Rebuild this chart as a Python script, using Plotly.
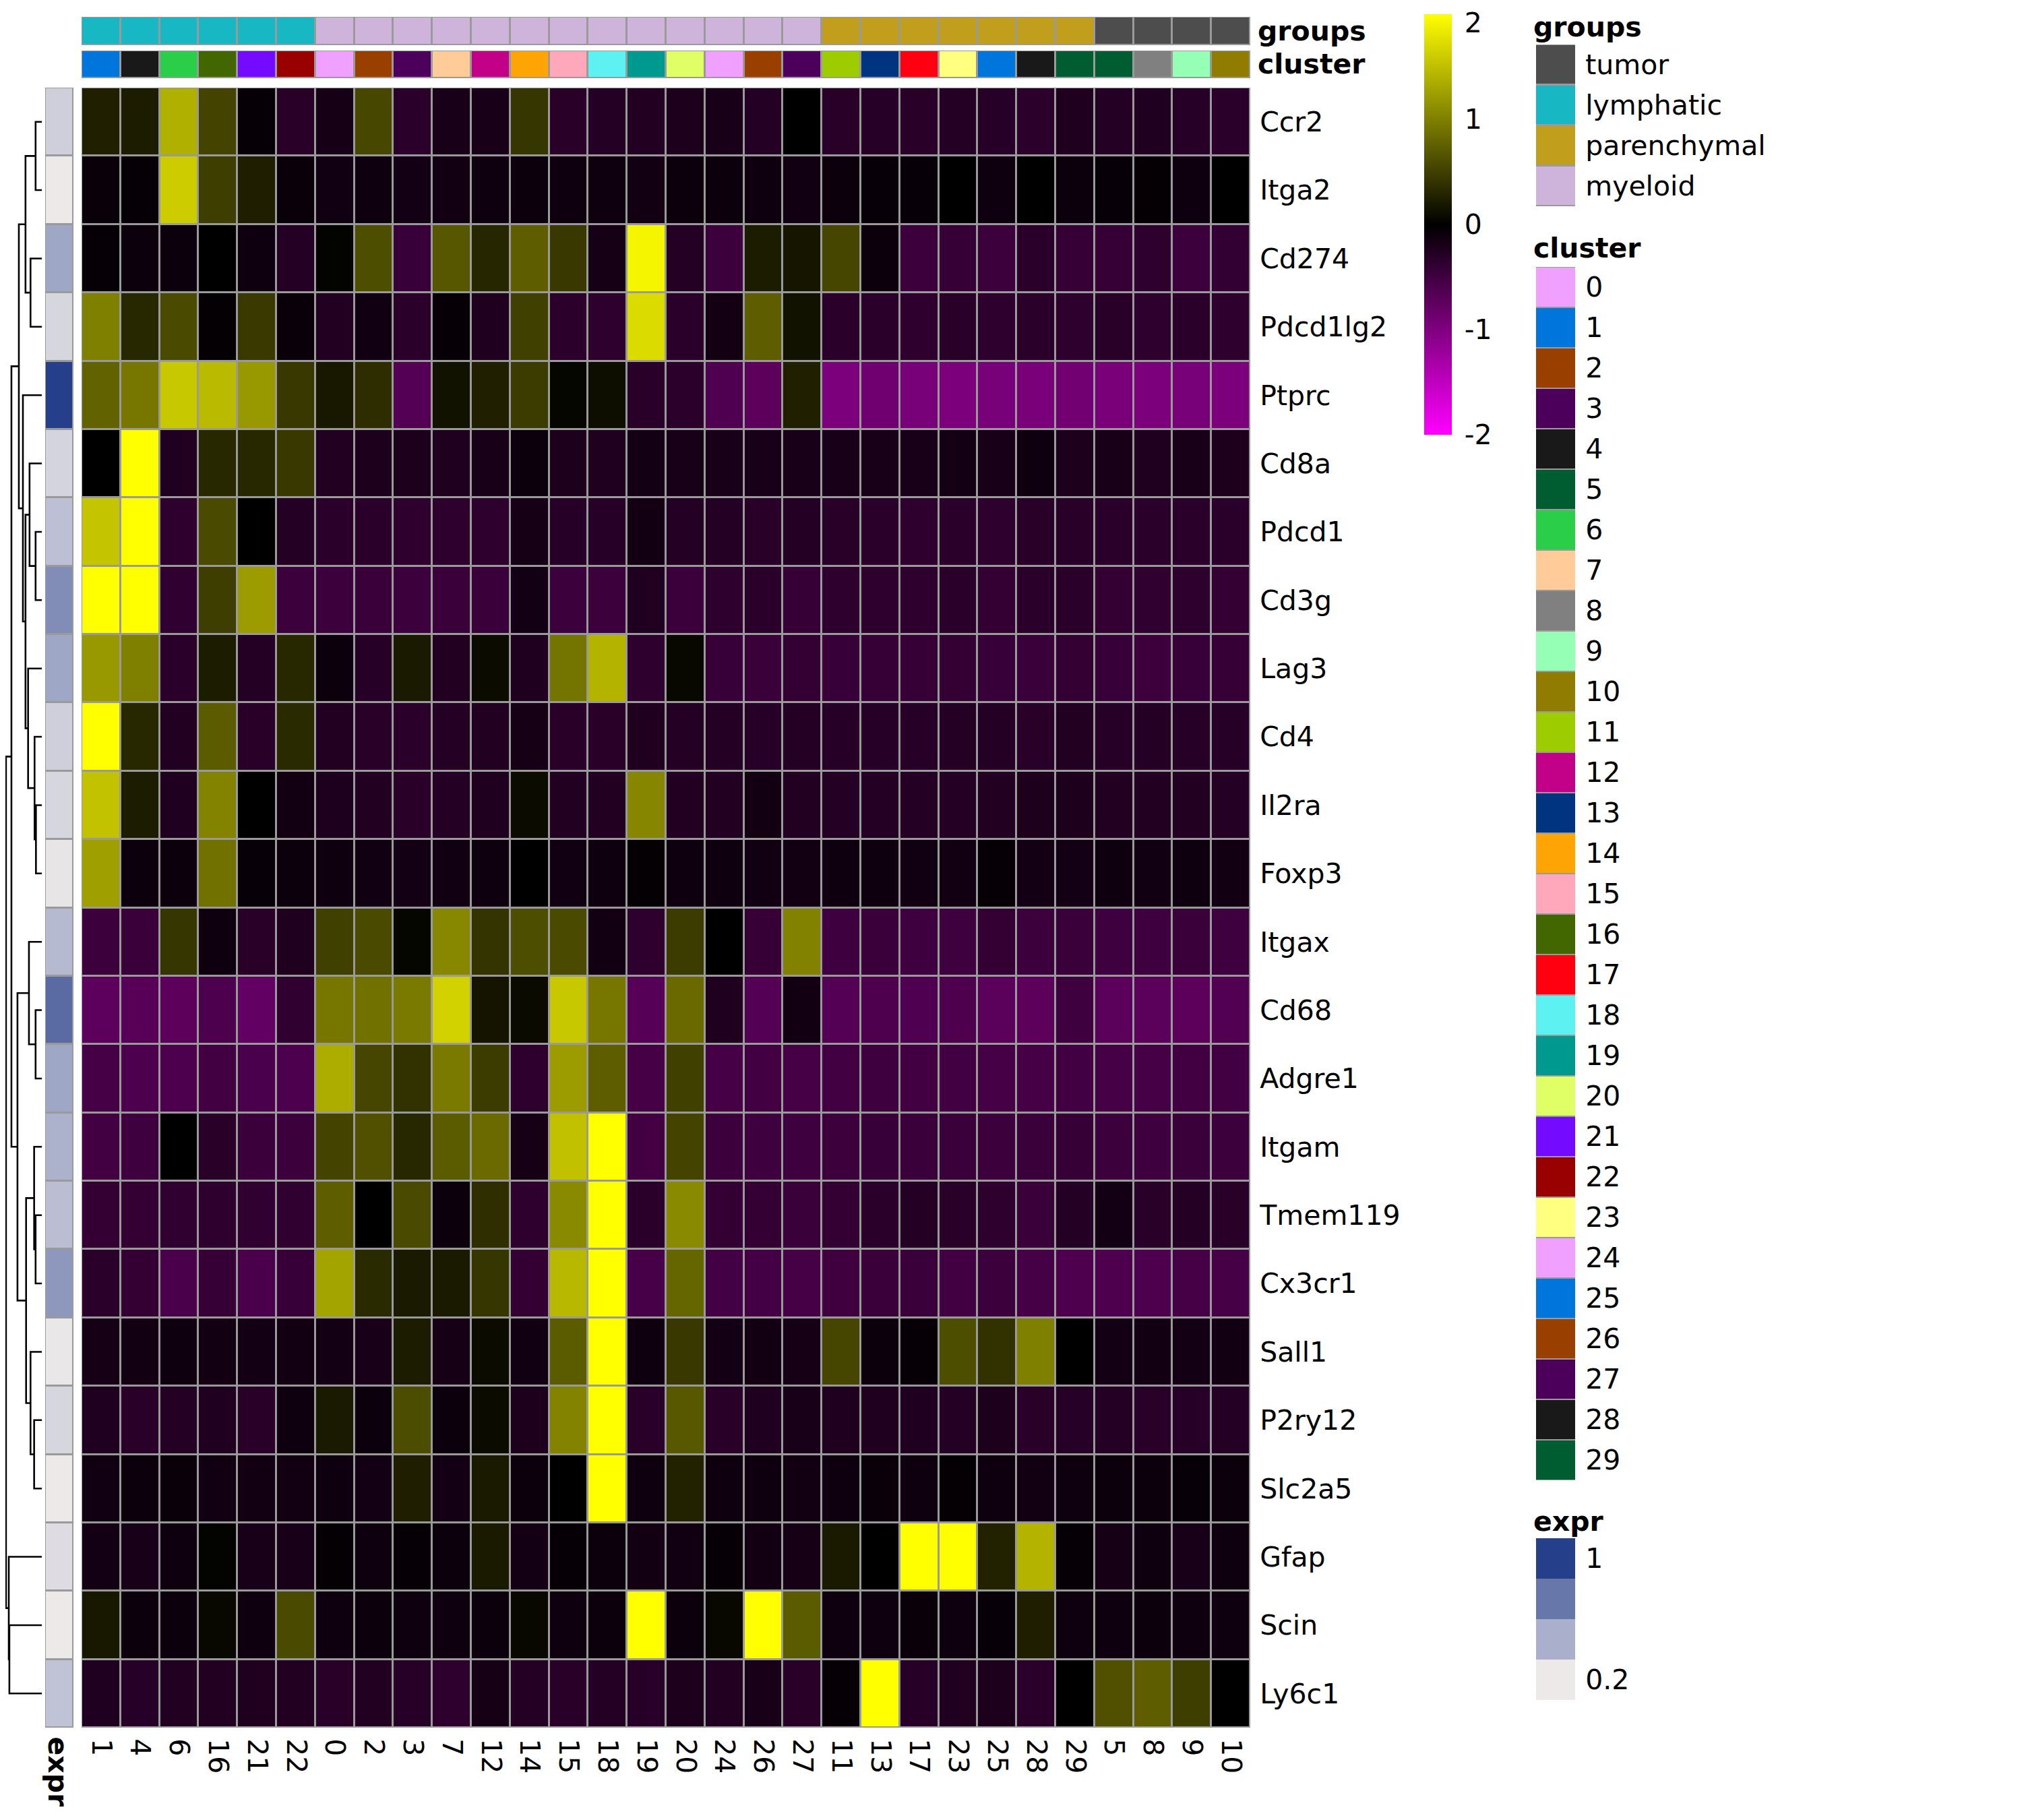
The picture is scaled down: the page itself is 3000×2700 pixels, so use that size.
import plotly.graph_objects as go

# reference canvas size (page pixels); the html body adds an 8px margin
PAGE_W, PAGE_H = 3000, 2700
OFF = 8
W, H = PAGE_W - 2 * OFF, PAGE_H - 2 * OFF
FONT = "DejaVu Sans"
FS = 41
BORDER = "#9A9A9A"

# ---------------- data ----------------
genes = ["Ccr2", "Itga2", "Cd274", "Pdcd1lg2", "Ptprc", "Cd8a", "Pdcd1", "Cd3g",
         "Lag3", "Cd4", "Il2ra", "Foxp3", "Itgax", "Cd68", "Adgre1", "Itgam",
         "Tmem119", "Cx3cr1", "Sall1", "P2ry12", "Slc2a5", "Gfap", "Scin", "Ly6c1"]

col_clusters = ["1", "4", "6", "16", "21", "22", "0", "2", "3", "7", "12", "14", "15",
                "18", "19", "20", "24", "26", "27", "11", "13", "17", "23", "25", "28",
                "29", "5", "8", "9", "10"]

col_groups = ["lymphatic", "lymphatic", "lymphatic", "lymphatic", "lymphatic", "lymphatic",
              "myeloid", "myeloid", "myeloid", "myeloid", "myeloid", "myeloid", "myeloid",
              "myeloid", "myeloid", "myeloid", "myeloid", "myeloid", "myeloid",
              "parenchymal", "parenchymal", "parenchymal", "parenchymal", "parenchymal",
              "parenchymal", "parenchymal", "tumor", "tumor", "tumor", "tumor"]

group_order = ["tumor", "lymphatic", "parenchymal", "myeloid"]
group_colors = ["#4D4D4D", "#17B8C4", "#C19E1C", "#CEB3DA"]

cluster_names = [str(i) for i in range(30)]
cluster_colors = ["#F0A0FF", "#0075DC", "#993F00", "#4C005C", "#191919", "#005C31",
                  "#2BCE48", "#FFCC99", "#808080", "#94FFB5", "#8F7C00", "#9DCC00",
                  "#C20088", "#003380", "#FFA405", "#FFA8BB", "#426600", "#FF0010",
                  "#5EF1F2", "#00998F", "#E0FF66", "#740AFF", "#990000", "#FFFF80",
                  "#F0A0FF", "#0075DC", "#993F00", "#4C005C", "#191919", "#005C31"]

expr_values = [0.32, 0.20, 0.51, 0.29, 1.00, 0.30, 0.39, 0.63, 0.51, 0.32, 0.29, 0.22,
               0.42, 0.79, 0.51, 0.46, 0.40, 0.58, 0.21, 0.29, 0.20, 0.26, 0.20, 0.38]
expr_legend_values = [1.0, 0.733, 0.467, 0.2]
expr_legend_labels = ["1", "", "", "0.2"]

ccr2 = [0.25, 0.22, 1.38, 0.53, -0.05, -0.31, -0.17, 0.56, -0.33, -0.2, -0.2, 0.42, -0.31, -0.28, -0.27,
        -0.22, -0.19, -0.28, 0.0, -0.31, -0.3, -0.31, -0.28, -0.3, -0.34, -0.24, -0.28, -0.25, -0.3, -0.33]
itga2 = [-0.08, -0.05, 1.6, 0.49, 0.24, -0.08, -0.13, -0.12, -0.16, -0.14, -0.11, -0.09, -0.11, -0.11, -0.14,
         -0.09, -0.09, -0.11, -0.13, -0.09, -0.06, -0.06, 0.0, -0.11, -0.01, -0.09, -0.06, -0.03, -0.11, 0.0]
cd274 = [-0.05, -0.1, -0.09, -0.01, -0.12, -0.28, 0.02, 0.61, -0.44, 0.68, 0.3, 0.74, 0.44, -0.17, 1.92,
         -0.28, -0.47, 0.22, 0.17, 0.55, -0.09, -0.47, -0.42, -0.47, -0.33, -0.42, -0.42, -0.35, -0.47, -0.4]
pdcd1lg2 = [1.0, 0.31, 0.58, -0.03, 0.45, -0.08, -0.27, -0.13, -0.33, -0.05, -0.24, 0.5, -0.34, -0.36, 1.72,
            -0.33, -0.15, 0.74, 0.14, -0.33, -0.33, -0.35, -0.31, -0.35, -0.33, -0.35, -0.31, -0.35, -0.33, -0.35]
ptprc = [0.77, 0.93, 1.57, 1.46, 1.19, 0.44, 0.19, 0.35, -0.66, 0.14, 0.25, 0.47, 0.05, 0.11, -0.31,
         -0.34, -0.63, -0.72, 0.25, -0.97, -0.88, -0.94, -0.97, -0.94, -0.96, -0.9, -0.96, -0.97, -0.94, -0.97]
cd8a = [-0.01, 2.0, -0.25, 0.31, 0.31, 0.44, -0.27, -0.22, -0.22, -0.24, -0.2, -0.09, -0.22, -0.24, -0.16,
        -0.19, -0.19, -0.19, -0.19, -0.19, -0.2, -0.19, -0.16, -0.19, -0.11, -0.22, -0.19, -0.24, -0.2, -0.22]
pdcd1 = [1.54, 2.0, -0.35, 0.58, 0.0, -0.28, -0.33, -0.33, -0.35, -0.36, -0.35, -0.17, -0.3, -0.3, -0.14,
         -0.28, -0.28, -0.31, -0.28, -0.31, -0.33, -0.35, -0.33, -0.35, -0.31, -0.31, -0.33, -0.33, -0.33, -0.33]
cd3g = [2.0, 2.0, -0.38, 0.49, 1.22, -0.47, -0.47, -0.45, -0.47, -0.45, -0.45, -0.16, -0.47, -0.47, -0.25,
        -0.46, -0.36, -0.33, -0.42, -0.36, -0.36, -0.36, -0.33, -0.41, -0.33, -0.33, -0.41, -0.38, -0.36, -0.41]
lag3 = [1.19, 1.0, -0.33, 0.22, -0.28, 0.31, -0.1, -0.3, 0.2, -0.27, 0.09, -0.24, 0.91, 1.41, -0.35,
        0.06, -0.44, -0.45, -0.41, -0.44, -0.42, -0.42, -0.41, -0.44, -0.45, -0.41, -0.44, -0.48, -0.44, -0.42]
cd4 = [2.0, 0.31, -0.26, 0.71, -0.31, 0.33, -0.27, -0.31, -0.33, -0.28, -0.27, -0.17, -0.31, -0.31, -0.24,
       -0.28, -0.28, -0.3, -0.28, -0.3, -0.3, -0.3, -0.28, -0.28, -0.31, -0.27, -0.3, -0.28, -0.3, -0.3]
il2ra = [1.52, 0.22, -0.25, 1.03, 0.0, -0.14, -0.23, -0.27, -0.31, -0.28, -0.24, 0.09, -0.27, -0.27, 1.05,
         -0.27, -0.27, -0.14, -0.27, -0.28, -0.28, -0.28, -0.28, -0.27, -0.22, -0.22, -0.27, -0.27, -0.27, -0.28]
foxp3 = [1.25, -0.1, -0.09, 0.89, -0.06, -0.1, -0.11, -0.13, -0.16, -0.13, -0.11, 0.0, -0.13, -0.11, -0.03,
         -0.11, -0.11, -0.13, -0.14, -0.11, -0.11, -0.13, -0.13, -0.05, -0.16, -0.16, -0.11, -0.13, -0.11, -0.14]
itgax = [-0.47, -0.45, 0.42, -0.12, -0.31, -0.24, 0.5, 0.58, 0.05, 1.06, 0.41, 0.61, 0.58, -0.14, -0.36,
         0.47, 0.0, -0.42, 1.02, -0.49, -0.45, -0.49, -0.49, -0.41, -0.47, -0.45, -0.49, -0.49, -0.45, -0.49]
cd68 = [-0.73, -0.69, -0.72, -0.6, -0.78, -0.38, 0.93, 0.89, 0.96, 1.65, 0.16, 0.08, 1.57, 0.93, -0.68,
        0.82, -0.24, -0.66, -0.14, -0.66, -0.61, -0.63, -0.61, -0.71, -0.72, -0.49, -0.71, -0.71, -0.72, -0.64]
adgre1 = [-0.55, -0.6, -0.6, -0.52, -0.58, -0.6, 1.36, 0.55, 0.39, 0.96, 0.47, -0.36, 1.22, 0.74, -0.55,
          0.5, -0.55, -0.52, -0.55, -0.52, -0.49, -0.52, -0.52, -0.55, -0.55, -0.52, -0.55, -0.55, -0.52, -0.52]
itgam = [-0.52, -0.49, -0.01, -0.31, -0.46, -0.47, 0.53, 0.63, 0.31, 0.71, 0.83, -0.17, 1.51, 2.0, -0.52,
         0.53, -0.47, -0.49, -0.49, -0.47, -0.44, -0.45, -0.45, -0.47, -0.45, -0.42, -0.47, -0.49, -0.45, -0.47]
tmem119 = [-0.41, -0.41, -0.38, -0.36, -0.38, -0.38, 0.74, 0.0, 0.58, -0.09, 0.36, -0.36, 1.08, 2.0, -0.33,
           1.08, -0.41, -0.41, -0.45, -0.41, -0.33, -0.28, -0.31, -0.35, -0.45, -0.28, -0.16, -0.31, -0.28, -0.31]
cx3cr1 = [-0.33, -0.41, -0.58, -0.42, -0.58, -0.44, 1.29, 0.33, 0.2, 0.2, 0.42, -0.41, 1.44, 2.0, -0.56,
          0.8, -0.53, -0.53, -0.55, -0.5, -0.45, -0.45, -0.52, -0.47, -0.55, -0.61, -0.61, -0.61, -0.55, -0.55]
sall1 = [-0.17, -0.14, -0.11, -0.14, -0.16, -0.14, -0.16, -0.2, 0.22, -0.17, 0.09, -0.13, 0.71, 2.0, -0.11,
         0.44, -0.16, -0.14, -0.17, 0.55, -0.09, -0.05, 0.61, 0.39, 1.0, 0.0, -0.16, -0.14, -0.16, -0.14]
p2ry12 = [-0.25, -0.31, -0.28, -0.25, -0.31, -0.12, 0.2, -0.09, 0.6, -0.09, 0.09, -0.22, 1.03, 2.0, -0.31,
          0.69, -0.31, -0.25, -0.2, -0.24, -0.24, -0.25, -0.28, -0.22, -0.31, -0.3, -0.28, -0.31, -0.3, -0.28]
slc2a5 = [-0.13, -0.09, -0.08, -0.13, -0.14, -0.14, -0.11, -0.16, 0.24, -0.16, 0.2, -0.09, 0.0, 2.0, -0.11,
          0.27, -0.11, -0.11, -0.14, -0.11, -0.08, -0.11, -0.03, -0.11, -0.14, -0.11, -0.09, -0.09, -0.06, -0.09]
gfap = [-0.16, -0.19, -0.11, 0.02, -0.19, -0.19, -0.03, -0.11, -0.05, -0.09, 0.2, -0.16, -0.05, -0.09, -0.14,
        -0.13, -0.05, -0.14, -0.17, 0.2, 0.0, 2.0, 2.0, 0.27, 1.4, -0.05, -0.17, -0.11, -0.19, -0.11]
scin = [0.19, -0.09, -0.09, 0.06, -0.11, 0.58, -0.11, -0.09, -0.11, -0.11, -0.09, 0.06, -0.11, -0.09, 2.0,
        -0.09, 0.06, 2.0, 0.71, -0.11, -0.11, -0.08, -0.11, -0.06, 0.24, -0.11, -0.11, -0.09, -0.11, -0.11]
ly6c1 = [-0.25, -0.3, -0.27, -0.27, -0.24, -0.27, -0.31, -0.27, -0.3, -0.35, -0.17, -0.28, -0.31, -0.28, -0.3,
         -0.22, -0.27, -0.2, -0.31, -0.05, 2.0, -0.3, -0.25, -0.22, -0.33, 0.0, 0.63, 0.74, 0.49, 0.0]

z_rows = [ccr2, itga2, cd274, pdcd1lg2, ptprc, cd8a, pdcd1, cd3g, lag3, cd4, il2ra, foxp3,
          itgax, cd68, adgre1, itgam, tmem119, cx3cr1, sall1, p2ry12, slc2a5, gfap, scin, ly6c1]

# row dendrogram: (left, right, merge height)
dendro_merges = [
    ("Ccr2", "Itga2", 10.6),        # m0
    ("Cd274", "Pdcd1lg2", 19.0),    # m1
    ("m0", "m1", 27.3),             # m2
    ("Pdcd1", "Cd3g", 10.6),        # m3
    ("Cd8a", "m3", 20.6),           # m4
    ("Il2ra", "Foxp3", 10.0),       # m5
    ("Cd4", "m5", 12.3),            # m6
    ("Lag3", "m6", 23.0),           # m7
    ("m4", "m7", 27.3),             # m8
    ("Ptprc", "m8", 31.6),          # m9
    ("m2", "m9", 38.3),             # m10
    ("Cd68", "Adgre1", 10.6),       # m11
    ("Itgax", "m11", 21.6),         # m12
    ("Tmem119", "Cx3cr1", 10.6),    # m13
    ("Itgam", "m13", 13.0),         # m14
    ("P2ry12", "Slc2a5", 13.0),     # m15
    ("Sall1", "m15", 19.0),         # m16
    ("m14", "m16", 26.3),           # m17
    ("m12", "m17", 40.6),           # m18
    ("m10", "m18", 50.6),           # m19
    ("Scin", "Ly6c1", 54.0),        # m20
    ("Gfap", "m20", 55.0),          # m21
    ("m19", "m21", 59.6),           # m22
]
DENDRO_TIP = 62.3   # page x of the leaf tips
DENDRO_MAX = 60.6   # height shown at the left edge of the plot

colorbar_ticks = [-2, -1, 0, 1, 2]

# ---------------- helpers ----------------
def fx(px):
    return (px - OFF) / W


def fy(py):
    return 1 - (py - OFF) / H


def discrete_scale(colors):
    n = len(colors)
    cs = []
    for i, c in enumerate(colors):
        cs.append([i / n, c])
        cs.append([(i + 1) / n, c])
    return cs


expr_scale = [[0.0, "#EDE9E9"], [0.333, "#AAB0CB"], [0.667, "#6877AA"], [1.0, "#253F8B"]]
main_scale = [[0.0, "#FF00FF"], [0.5, "#000000"], [1.0, "#FFFF00"]]

n_rows, n_cols = len(genes), len(col_clusters)
rows_idx = list(range(n_rows))
cols_idx = list(range(n_cols))

# end tick labels placed just inside the bar so the top one is not cut by the page edge
cb_tickvals = [min(max(t, -1.9999), 1.92) for t in colorbar_ticks]

fig = go.Figure()

# main heatmap
fig.add_trace(go.Heatmap(
    z=z_rows, x=cols_idx, y=rows_idx, colorscale=main_scale, zmin=-2, zmax=2,
    xgap=3, ygap=3, xaxis="x", yaxis="y", hoverinfo="skip",
    colorbar=dict(thickness=41, thicknessmode="pixels", len=624, lenmode="pixels",
                  x=fx(2113), xanchor="left", y=fy(21), yanchor="top",
                  xpad=0, ypad=0, outlinewidth=0,
                  tickvals=cb_tickvals, ticktext=[str(t) for t in colorbar_ticks],
                  ticks="outside", ticklen=11, tickcolor="rgba(0,0,0,0)",
                  ticklabeloverflow="allow",
                  tickfont=dict(family=FONT, size=FS, color="black")),
))

# groups annotation bar
fig.add_trace(go.Heatmap(
    z=[[group_order.index(g) for g in col_groups]], x=cols_idx, y=[0],
    colorscale=discrete_scale(group_colors), zmin=-0.5, zmax=len(group_order) - 0.5,
    showscale=False, xgap=3, ygap=3, xaxis="x2", yaxis="y2", hoverinfo="skip"))

# cluster annotation bar
fig.add_trace(go.Heatmap(
    z=[[cluster_names.index(c) for c in col_clusters]], x=cols_idx, y=[0],
    colorscale=discrete_scale(cluster_colors), zmin=-0.5, zmax=len(cluster_names) - 0.5,
    showscale=False, xgap=3, ygap=3, xaxis="x3", yaxis="y3", hoverinfo="skip"))

# expr row annotation
fig.add_trace(go.Heatmap(
    z=[[v] for v in expr_values], x=[0], y=rows_idx, colorscale=expr_scale,
    zmin=0.2, zmax=1.0, showscale=False, xgap=3, ygap=3,
    xaxis="x4", yaxis="y4", hoverinfo="skip"))

# dendrogram
node_pos = {g: i for i, g in enumerate(genes)}
node_h = {g: 0.0 for g in genes}
dx, dy = [], []
for k, (a, b, h) in enumerate(dendro_merges):
    ya, yb = node_pos[a], node_pos[b]
    ha, hb = node_h[a], node_h[b]
    dx += [ha, h, h, hb, None]
    dy += [ya, ya, yb, yb, None]
    name = "m%d" % k
    node_pos[name] = (ya + yb) / 2
    node_h[name] = h
fig.add_trace(go.Scatter(x=dx, y=dy, mode="lines", line=dict(color="black", width=2.6),
                         xaxis="x5", yaxis="y5", hoverinfo="skip", cliponaxis=False))

# legends
fig.add_trace(go.Heatmap(
    z=[[i] for i in range(len(group_order))], x=[0], y=list(range(len(group_order))),
    colorscale=discrete_scale(group_colors), zmin=-0.5, zmax=len(group_order) - 0.5,
    showscale=False, ygap=3, xaxis="x6", yaxis="y6", hoverinfo="skip"))
fig.add_trace(go.Heatmap(
    z=[[i] for i in range(len(cluster_names))], x=[0], y=list(range(len(cluster_names))),
    colorscale=discrete_scale(cluster_colors), zmin=-0.5, zmax=len(cluster_names) - 0.5,
    showscale=False, ygap=2, xaxis="x7", yaxis="y7", hoverinfo="skip"))
fig.add_trace(go.Heatmap(
    z=[[v] for v in expr_legend_values], x=[0], y=list(range(len(expr_legend_values))),
    colorscale=expr_scale, zmin=0.2, zmax=1.0,
    showscale=False, xaxis="x8", yaxis="y8", hoverinfo="skip"))

hidden = dict(visible=False, showgrid=False, zeroline=False, fixedrange=True)
tickfont = dict(family=FONT, size=FS, color="black")


def label_axis(ticklen):
    return dict(showgrid=False, zeroline=False, showline=False, ticks="outside",
                ticklen=ticklen, tickcolor="rgba(0,0,0,0)", tickfont=tickfont)


hm_x = [fx(121), fx(1855)]
hm_y = [fy(2563), fy(130)]

fig.update_layout(
    width=W, height=H, margin=dict(l=0, r=0, t=0, b=0, pad=0),
    paper_bgcolor="white", plot_bgcolor="rgba(0,0,0,0)", showlegend=False,
    font=dict(family=FONT, size=FS, color="black"),
    xaxis=dict(domain=hm_x, range=[-0.5, n_cols - 0.5], anchor="y",
               tickvals=cols_idx, ticktext=col_clusters, tickangle=90, **label_axis(7)),
    yaxis=dict(domain=hm_y, range=[n_rows - 0.5, -0.5], anchor="x", side="right",
               tickvals=rows_idx, ticktext=genes, **label_axis(5)),
    xaxis2=dict(domain=hm_x, range=[-0.5, n_cols - 0.5], anchor="y2", **hidden),
    yaxis2=dict(domain=[fy(67), fy(25)], range=[-0.5, 0.5], anchor="x2", **hidden),
    xaxis3=dict(domain=hm_x, range=[-0.5, n_cols - 0.5], anchor="y3", **hidden),
    yaxis3=dict(domain=[fy(116), fy(75)], range=[-0.5, 0.5], anchor="x3", **hidden),
    xaxis4=dict(domain=[fx(67), fx(109)], range=[-0.5, 0.5], anchor="y4", **hidden),
    yaxis4=dict(domain=hm_y, range=[n_rows - 0.5, -0.5], anchor="x4", **hidden),
    xaxis5=dict(domain=[0, fx(DENDRO_TIP)], range=[DENDRO_MAX, 0], anchor="y5", **hidden),
    yaxis5=dict(domain=hm_y, range=[n_rows - 0.5, -0.5], anchor="x5", **hidden),
    xaxis6=dict(domain=[fx(2279), fx(2337)], range=[-0.5, 0.5], anchor="y6", **hidden),
    yaxis6=dict(domain=[fy(306), fy(66)], range=[len(group_order) - 0.5, -0.5], anchor="x6",
                side="right", tickvals=list(range(len(group_order))), ticktext=group_order,
                **label_axis(6)),
    xaxis7=dict(domain=[fx(2279), fx(2337)], range=[-0.5, 0.5], anchor="y7", **hidden),
    yaxis7=dict(domain=[fy(2196), fy(396)], range=[len(cluster_names) - 0.5, -0.5], anchor="x7",
                side="right", tickvals=list(range(len(cluster_names))), ticktext=cluster_names,
                **label_axis(6)),
    xaxis8=dict(domain=[fx(2279), fx(2337)], range=[-0.5, 0.5], anchor="y8", **hidden),
    yaxis8=dict(domain=[fy(2522), fy(2282)], range=[len(expr_legend_values) - 0.5, -0.5],
                anchor="x8", side="right", tickvals=list(range(len(expr_legend_values))),
                ticktext=expr_legend_labels, **label_axis(6)),
)

# gray borders / grid backgrounds
def gray_rect(xref, yref, x0, x1, y0, y1, width=3):
    fig.add_shape(type="rect", xref=xref, yref=yref, x0=x0, x1=x1, y0=y0, y1=y1,
                  fillcolor=BORDER, line=dict(color=BORDER, width=width), layer="below")


gray_rect("x", "y", -0.5, n_cols - 0.5, -0.5, n_rows - 0.5)
gray_rect("x2", "y2", -0.5, n_cols - 0.5, -0.5, 0.5)
gray_rect("x3", "y3", -0.5, n_cols - 0.5, -0.5, 0.5)
gray_rect("x4", "y4", -0.5, 0.5, -0.5, n_rows - 0.5)
gray_rect("x6", "y6", -0.5, 0.5, -0.5, len(group_order) - 0.5)
gray_rect("x7", "y7", -0.5, 0.5, -0.5, len(cluster_names) - 0.5)
gray_rect("x8", "y8", -0.5, 0.5, -0.5, len(expr_legend_values) - 0.5)

# titles / labels
def label(text, x, y, xanchor="left", yanchor="middle", angle=0):
    fig.add_annotation(text=text, x=fx(x), y=fy(y), xref="paper", yref="paper",
                       xanchor=xanchor, yanchor=yanchor, showarrow=False, textangle=angle,
                       font=dict(family=FONT, size=FS, color="black"))


label("<b>groups</b>", 1864, 46)
label("<b>cluster</b>", 1864, 95)
label("<b>groups</b>", 2273, 40)
label("<b>cluster</b>", 2273, 368)
label("<b>expr</b>", 2273, 2257)
label("<b>expr</b>", 86, 2574, xanchor="center", yanchor="top", angle=90)

fig.write_html("out.html")
